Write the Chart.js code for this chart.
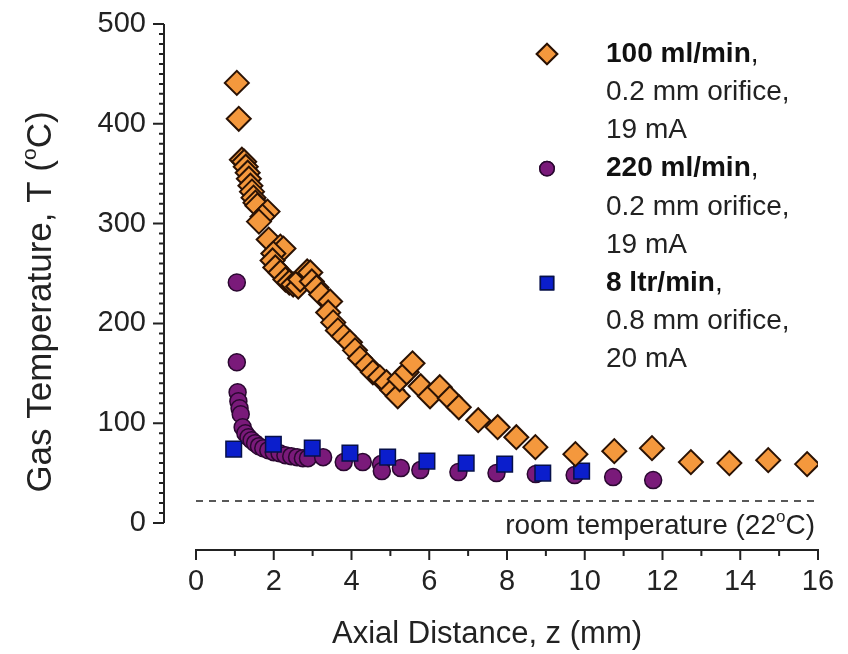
<!DOCTYPE html>
<html>
<head>
<meta charset="utf-8">
<script src="https://cdn.jsdelivr.net/npm/chart.js@4"></script>
<style>
  body { margin: 0; background: #fff; }
  canvas { display: block; }
</style>
</head>
<body>
<canvas id="chart" width="848" height="654"></canvas>
<script>
// 100 ml/min, 0.2 mm orifice, 19 mA
var zOrange = [1.05, 1.10, 1.18, 1.24, 1.28, 1.33, 1.36, 1.40, 1.44, 1.48, 1.53, 1.58, 1.84, 1.71, 1.62,
  1.87, 2.17, 2.25, 1.99, 1.97, 2.04, 2.17, 2.30, 2.40, 2.50, 2.63, 2.68, 2.86, 2.94, 2.98,
  3.10, 3.22, 3.45, 3.40, 3.53, 3.65, 3.80, 3.96, 4.09, 4.22, 4.40, 4.55, 4.73, 4.90, 5.05,
  5.19, 5.24, 5.42, 5.57, 5.78, 6.02, 6.27, 6.53, 6.76, 7.26, 7.76, 8.24, 8.73, 9.76, 10.76,
  11.73, 12.73, 13.72, 14.72, 15.72];
var tOrange = [441, 405, 364, 362, 357, 351, 345, 338, 332, 326, 321, 318, 312, 307, 302,
  284, 277, 275, 270, 263, 256, 251, 244, 241, 239, 237, 244, 252, 251, 242,
  236, 229, 222, 211, 201, 193, 187, 181, 173, 165, 158, 151, 146, 141, 133,
  127, 144, 151, 160, 137, 127, 136, 125, 116, 103, 96, 86, 76, 69, 72,
  75, 61, 60, 63, 59];

// 220 ml/min, 0.2 mm orifice, 19 mA
var zPurple = [1.05, 1.05, 1.07, 1.09, 1.12, 1.15, 1.20, 1.27, 1.35, 1.43, 1.52, 1.62, 1.73, 1.86, 2.00,
  2.15, 2.30, 2.45, 2.60, 2.75, 2.88, 3.27, 3.80, 4.29, 4.76, 4.78, 5.27, 5.77, 6.75, 7.73,
  8.74, 9.74, 10.73, 11.76];
var tPurple = [241, 161, 131, 122, 115, 109, 96, 90, 86, 83, 80, 77, 75, 73, 71,
  70, 68, 67, 66, 65, 65, 66, 61, 61, 59, 52, 55, 53, 51, 50,
  49, 48, 46, 43];

// 8 ltr/min, 0.8 mm orifice, 20 mA
var zBlue = [0.97, 1.99, 2.99, 3.96, 4.93, 5.94, 6.95, 7.94, 8.92, 9.92];
var tBlue = [74, 79, 75, 70, 66, 62, 60, 59, 50, 52];

var xTicks = [0, 2, 4, 6, 8, 10, 12, 14, 16];
var yTicks = [0, 100, 200, 300, 400, 500];
var roomTemp = 22;

var legendLines = [
  ['100 ml/min', '0.2 mm orifice,', '19 mA'],
  ['220 ml/min', '0.2 mm orifice,', '19 mA'],
  ['8 ltr/min', '0.8 mm orifice,', '20 mA']
];

function toPoints(xs, ys) {
  var pts = [];
  for (var i = 0; i < xs.length; i++) pts.push({x: xs[i], y: ys[i]});
  return pts;
}

var FONT = "'Liberation Sans', Arial, sans-serif";

// text with a small raised middle part (the degree "o")
function drawSupText(ctx, parts, x, y, size, align) {
  ctx.font = size + 'px ' + FONT;
  var w1 = ctx.measureText(parts[0]).width;
  var w3 = ctx.measureText(parts[2]).width;
  ctx.font = Math.round(size * 0.6) + 'px ' + FONT;
  var w2 = ctx.measureText(parts[1]).width;
  var total = w1 + w2 + w3;
  var sx = x;
  if (align === 'right') sx = x - total;
  if (align === 'center') sx = x - total / 2;
  ctx.textAlign = 'left';
  ctx.textBaseline = 'alphabetic';
  ctx.font = size + 'px ' + FONT;
  ctx.fillText(parts[0], sx, y);
  ctx.font = Math.round(size * 0.6) + 'px ' + FONT;
  ctx.fillText(parts[1], sx + w1, y - size * 0.42);
  ctx.font = size + 'px ' + FONT;
  ctx.fillText(parts[2], sx + w1 + w2, y);
}

// axes, room temperature line, titles and legend
var decorPlugin = {
  id: 'decor',
  afterDraw: function(chart) {
    var ctx = chart.ctx;
    var xs = chart.scales.x, ys = chart.scales.y;
    var x0 = xs.getPixelForValue(0), x16 = xs.getPixelForValue(16);
    var y0 = ys.getPixelForValue(0), y500 = ys.getPixelForValue(500);
    ctx.save();
    ctx.strokeStyle = '#222';
    ctx.lineWidth = 2;

    // y axis, pulled off to the left
    var ax = x0 - 32;
    ctx.beginPath();
    ctx.moveTo(ax, y0); ctx.lineTo(ax, y500);
    for (var v = 0; v <= 500; v += 10) {
      var py = ys.getPixelForValue(v);
      var len = (v % 100 === 0) ? 11 : 5;
      ctx.moveTo(ax, py); ctx.lineTo(ax - len, py);
    }
    ctx.stroke();

    // x axis, pulled down
    var ay = y0 + 27;
    ctx.beginPath();
    ctx.moveTo(x0, ay); ctx.lineTo(x16, ay);
    for (var u = 0; u <= 16; u += 1) {
      var px = xs.getPixelForValue(u);
      var l2 = (u % 2 === 0) ? 10 : 6;
      ctx.moveTo(px, ay - 1); ctx.lineTo(px, ay + l2);
    }
    ctx.stroke();

    // room temperature dashed line
    var ry = ys.getPixelForValue(roomTemp);
    ctx.beginPath();
    ctx.setLineDash([7, 6]);
    ctx.lineWidth = 1.5;
    ctx.moveTo(x0, ry); ctx.lineTo(x16, ry);
    ctx.stroke();
    ctx.setLineDash([]);

    ctx.fillStyle = '#222';
    drawSupText(ctx, ['room temperature (22', 'o', 'C)'], x16 - 3, ry + 33, 28, 'right');

    // x title
    ctx.font = '31px ' + FONT;
    ctx.textAlign = 'center';
    ctx.fillText('Axial Distance, z (mm)', 487, 643);

    // y title, rotated
    ctx.save();
    ctx.translate(51, 302);
    ctx.rotate(-Math.PI / 2);
    drawSupText(ctx, ['Gas Temperature, T (', 'o', 'C)'], 0, 0, 35, 'center');
    ctx.restore();

    // legend
    var sets = chart.data.datasets;
    var lineY = 54, step = 38.2;
    for (var k = 0; k < legendLines.length; k++) {
      var ds = sets[k];
      var ly = lineY + k * 3 * step;
      ctx.fillStyle = ds.backgroundColor;
      ctx.strokeStyle = ds.borderColor;
      ctx.lineWidth = ds.borderWidth;
      ctx.beginPath();
      Chart.helpers.drawPoint(ctx, {
        pointStyle: ds.pointStyle,
        radius: ds.pointRadius * 0.85,
        borderWidth: ds.borderWidth
      }, 547, ly);
      ctx.fill();
      ctx.stroke();

      ctx.fillStyle = '#111';
      ctx.textAlign = 'left';
      ctx.textBaseline = 'middle';
      var lines = legendLines[k];
      ctx.font = 'bold 28px ' + FONT;
      ctx.fillText(lines[0], 606, ly);
      var w = ctx.measureText(lines[0]).width;
      ctx.font = '28px ' + FONT;
      ctx.fillText(',', 606 + w, ly);
      ctx.fillStyle = '#222';
      ctx.fillText(lines[1], 606, ly + step);
      ctx.fillText(lines[2], 606, ly + 2 * step);
    }
    ctx.restore();
  }
};

new Chart(document.getElementById('chart'), {
  type: 'scatter',
  data: {
    datasets: [
      {
        label: '100 ml/min',
        data: toPoints(zOrange, tOrange),
        pointStyle: 'rectRot',
        pointRadius: 12,
        backgroundColor: '#F4983D',
        borderColor: '#2a1204',
        borderWidth: 2,
        order: 1
      },
      {
        label: '220 ml/min',
        data: toPoints(zPurple, tPurple),
        pointStyle: 'circle',
        pointRadius: 8.5,
        backgroundColor: '#7A1A7A',
        borderColor: '#2a0830',
        borderWidth: 1.5,
        order: 3
      },
      {
        label: '8 ltr/min',
        data: toPoints(zBlue, tBlue),
        pointStyle: 'rect',
        pointRadius: 11,
        backgroundColor: '#0B1ECC',
        borderColor: '#06104a',
        borderWidth: 1.5,
        order: 2
      }
    ]
  },
  options: {
    responsive: false,
    animation: false,
    layout: { padding: { left: 96, right: 30, top: 24, bottom: 31 } },
    plugins: {
      legend: { display: false },
      tooltip: { enabled: false }
    },
    scales: {
      x: {
        type: 'linear',
        min: 0, max: 16,
        afterFit: function(scale) {
          scale.height = 100;
          scale.paddingLeft = 0; scale.paddingRight = 0;
        },
        afterBuildTicks: function(scale) {
          scale.ticks = xTicks.map(function(v) { return {value: v}; });
        },
        grid: { display: false, drawTicks: false },
        border: { display: false },
        ticks: { padding: 42, color: '#222', font: { family: FONT, size: 29 } }
      },
      y: {
        type: 'linear',
        min: 0, max: 500,
        afterFit: function(scale) {
          scale.width = 100;
          scale.paddingTop = 0; scale.paddingBottom = 0;
        },
        afterBuildTicks: function(scale) {
          scale.ticks = yTicks.map(function(v) { return {value: v}; });
        },
        grid: { display: false, drawTicks: false },
        border: { display: false },
        ticks: { padding: 50, color: '#222', font: { family: FONT, size: 29 } }
      }
    }
  },
  plugins: [decorPlugin]
});
</script>
</body>
</html>
